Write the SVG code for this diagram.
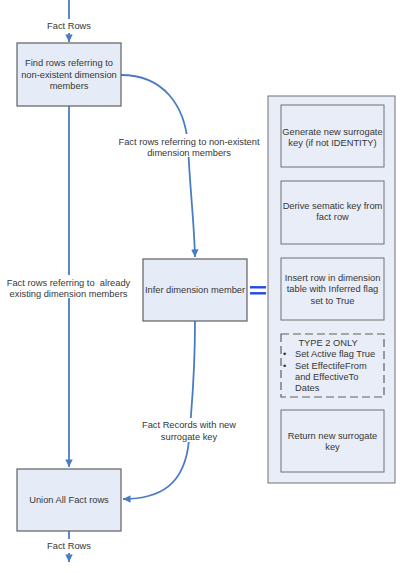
<svg xmlns="http://www.w3.org/2000/svg" width="400" height="573" viewBox="0 0 400 573">
<style>
text{font-family:"Liberation Sans",Arial,sans-serif;font-size:9.3px;fill:#363636}
.c{text-anchor:middle}
.pre{white-space:pre}
.box{fill:#e6ecf7;stroke:#606060;stroke-width:1.2}
.panel{fill:#e8edf7;stroke:#707070;stroke-width:1}
.dash{fill:none;stroke:#606060;stroke-width:1.2;stroke-dasharray:8,4}
.conn{fill:none;stroke:#4a7cc6;stroke-width:1.8}
.eq{stroke:#2247e6;stroke-width:2.4}
.lbl{fill:#ffffff;stroke:none}
</style>
<defs>
<marker id="ah" viewBox="0 0 10 10" refX="10" refY="5" markerWidth="4.2" markerHeight="4.2" orient="auto" markerUnits="strokeWidth">
<path d="M0,0 L10,5 L0,10 z" fill="#4a7cc6"/>
</marker>
</defs>
<rect width="400" height="573" fill="#ffffff"/>
<g id="connectors">
<line class="conn" x1="69" y1="0" x2="69" y2="42" marker-end="url(#ah)"/>
<path class="conn" d="M121,75 C163,75 185,105 188,145 C190,190 194,220 195,257" marker-end="url(#ah)"/>
<line class="conn" x1="69" y1="106" x2="69" y2="467" marker-end="url(#ah)"/>
<path class="conn" d="M195,321 C195,380 192,400 189,440 C185,485 160,499 123,499" marker-end="url(#ah)"/>
<line class="conn" x1="69" y1="531" x2="69" y2="562" marker-end="url(#ah)"/>
<line class="eq" x1="250" y1="287.3" x2="266" y2="287.3"/>
<line class="eq" x1="250" y1="293.3" x2="266" y2="293.3"/>
<line class="conn" x1="332.5" y1="167" x2="332.5" y2="181"/>
<line class="conn" x1="332.5" y1="244" x2="332.5" y2="258"/>
<line class="conn" x1="332.5" y1="320" x2="332.5" y2="334"/>
<line class="conn" x1="332.5" y1="397" x2="332.5" y2="410"/>
<rect class="lbl" x="46" y="19" width="46" height="14"/>
<text class="c" x="69" y="29.3">Fact Rows</text>
<rect class="lbl" x="117" y="134" width="145" height="23"/>
<text class="c" x="189" y="144.5">Fact rows referring to non-existent</text>
<text class="c" x="189" y="155.5">dimension members</text>
<rect class="lbl" x="4" y="275" width="130" height="23"/>
<text class="c pre" x="68.5" y="285.5">Fact rows referring to  already</text>
<text class="c" x="68.5" y="296.5">existing dimension members</text>
<rect class="lbl" x="140" y="418" width="98" height="24"/>
<text class="c" x="189" y="428.3">Fact Records with new</text>
<text class="c" x="189" y="440">surrogate key</text>
<rect class="lbl" x="46" y="539" width="46" height="14"/>
<text class="c" x="69" y="549.3">Fact Rows</text>
</g>
<g id="find">
<rect class="box" x="17" y="43" width="104" height="63"/>
<text class="c" x="69" y="66">Find rows referring to</text>
<text class="c" x="69" y="77.5">non-existent dimension</text>
<text class="c" x="69" y="89">members</text>
</g>
<g id="infer">
<rect class="box" x="143" y="259" width="104" height="62"/>
<text class="c" x="195" y="293.3">Infer dimension member</text>
</g>
<g id="union">
<rect class="box" x="17" y="469" width="104" height="62"/>
<text class="c" x="69" y="503">Union All Fact rows</text>
</g>
<g id="panel">
<rect class="panel" x="268" y="96" width="127" height="387"/>
</g>
<g id="generate">
<rect class="panel" x="281" y="105" width="103" height="62"/>
<text class="c" x="332.5" y="135">Generate new surrogate</text>
<text class="c" x="332.5" y="146">key (if not IDENTITY)</text>
</g>
<g id="derive">
<rect class="panel" x="281" y="181" width="103" height="63"/>
<text class="c" x="332.5" y="209">Derive sematic key from</text>
<text class="c" x="332.5" y="220">fact row</text>
</g>
<g id="insert">
<rect class="panel" x="281" y="258" width="103" height="62"/>
<text class="c" x="332.5" y="280.5">Insert row in dimension</text>
<text class="c" x="332.5" y="292">table with Inferred flag</text>
<text class="c" x="332.5" y="303.5">set to True</text>
</g>
<g id="type2">
<rect class="dash" x="281" y="334" width="103" height="63"/>
<text class="c" x="328" y="346.3">TYPE 2 ONLY</text>
<text x="283" y="357.3">•</text>
<text x="295" y="357.3">Set Active flag True</text>
<text x="283" y="368.5">•</text>
<text x="295" y="368.5">Set EffectifeFrom</text>
<text x="295" y="380">and EffectiveTo</text>
<text x="295" y="391.3">Dates</text>
</g>
<g id="return">
<rect class="panel" x="281" y="410" width="103" height="62"/>
<text class="c" x="332.5" y="439">Return new surrogate</text>
<text class="c" x="332.5" y="450">key</text>
</g>
</svg>
